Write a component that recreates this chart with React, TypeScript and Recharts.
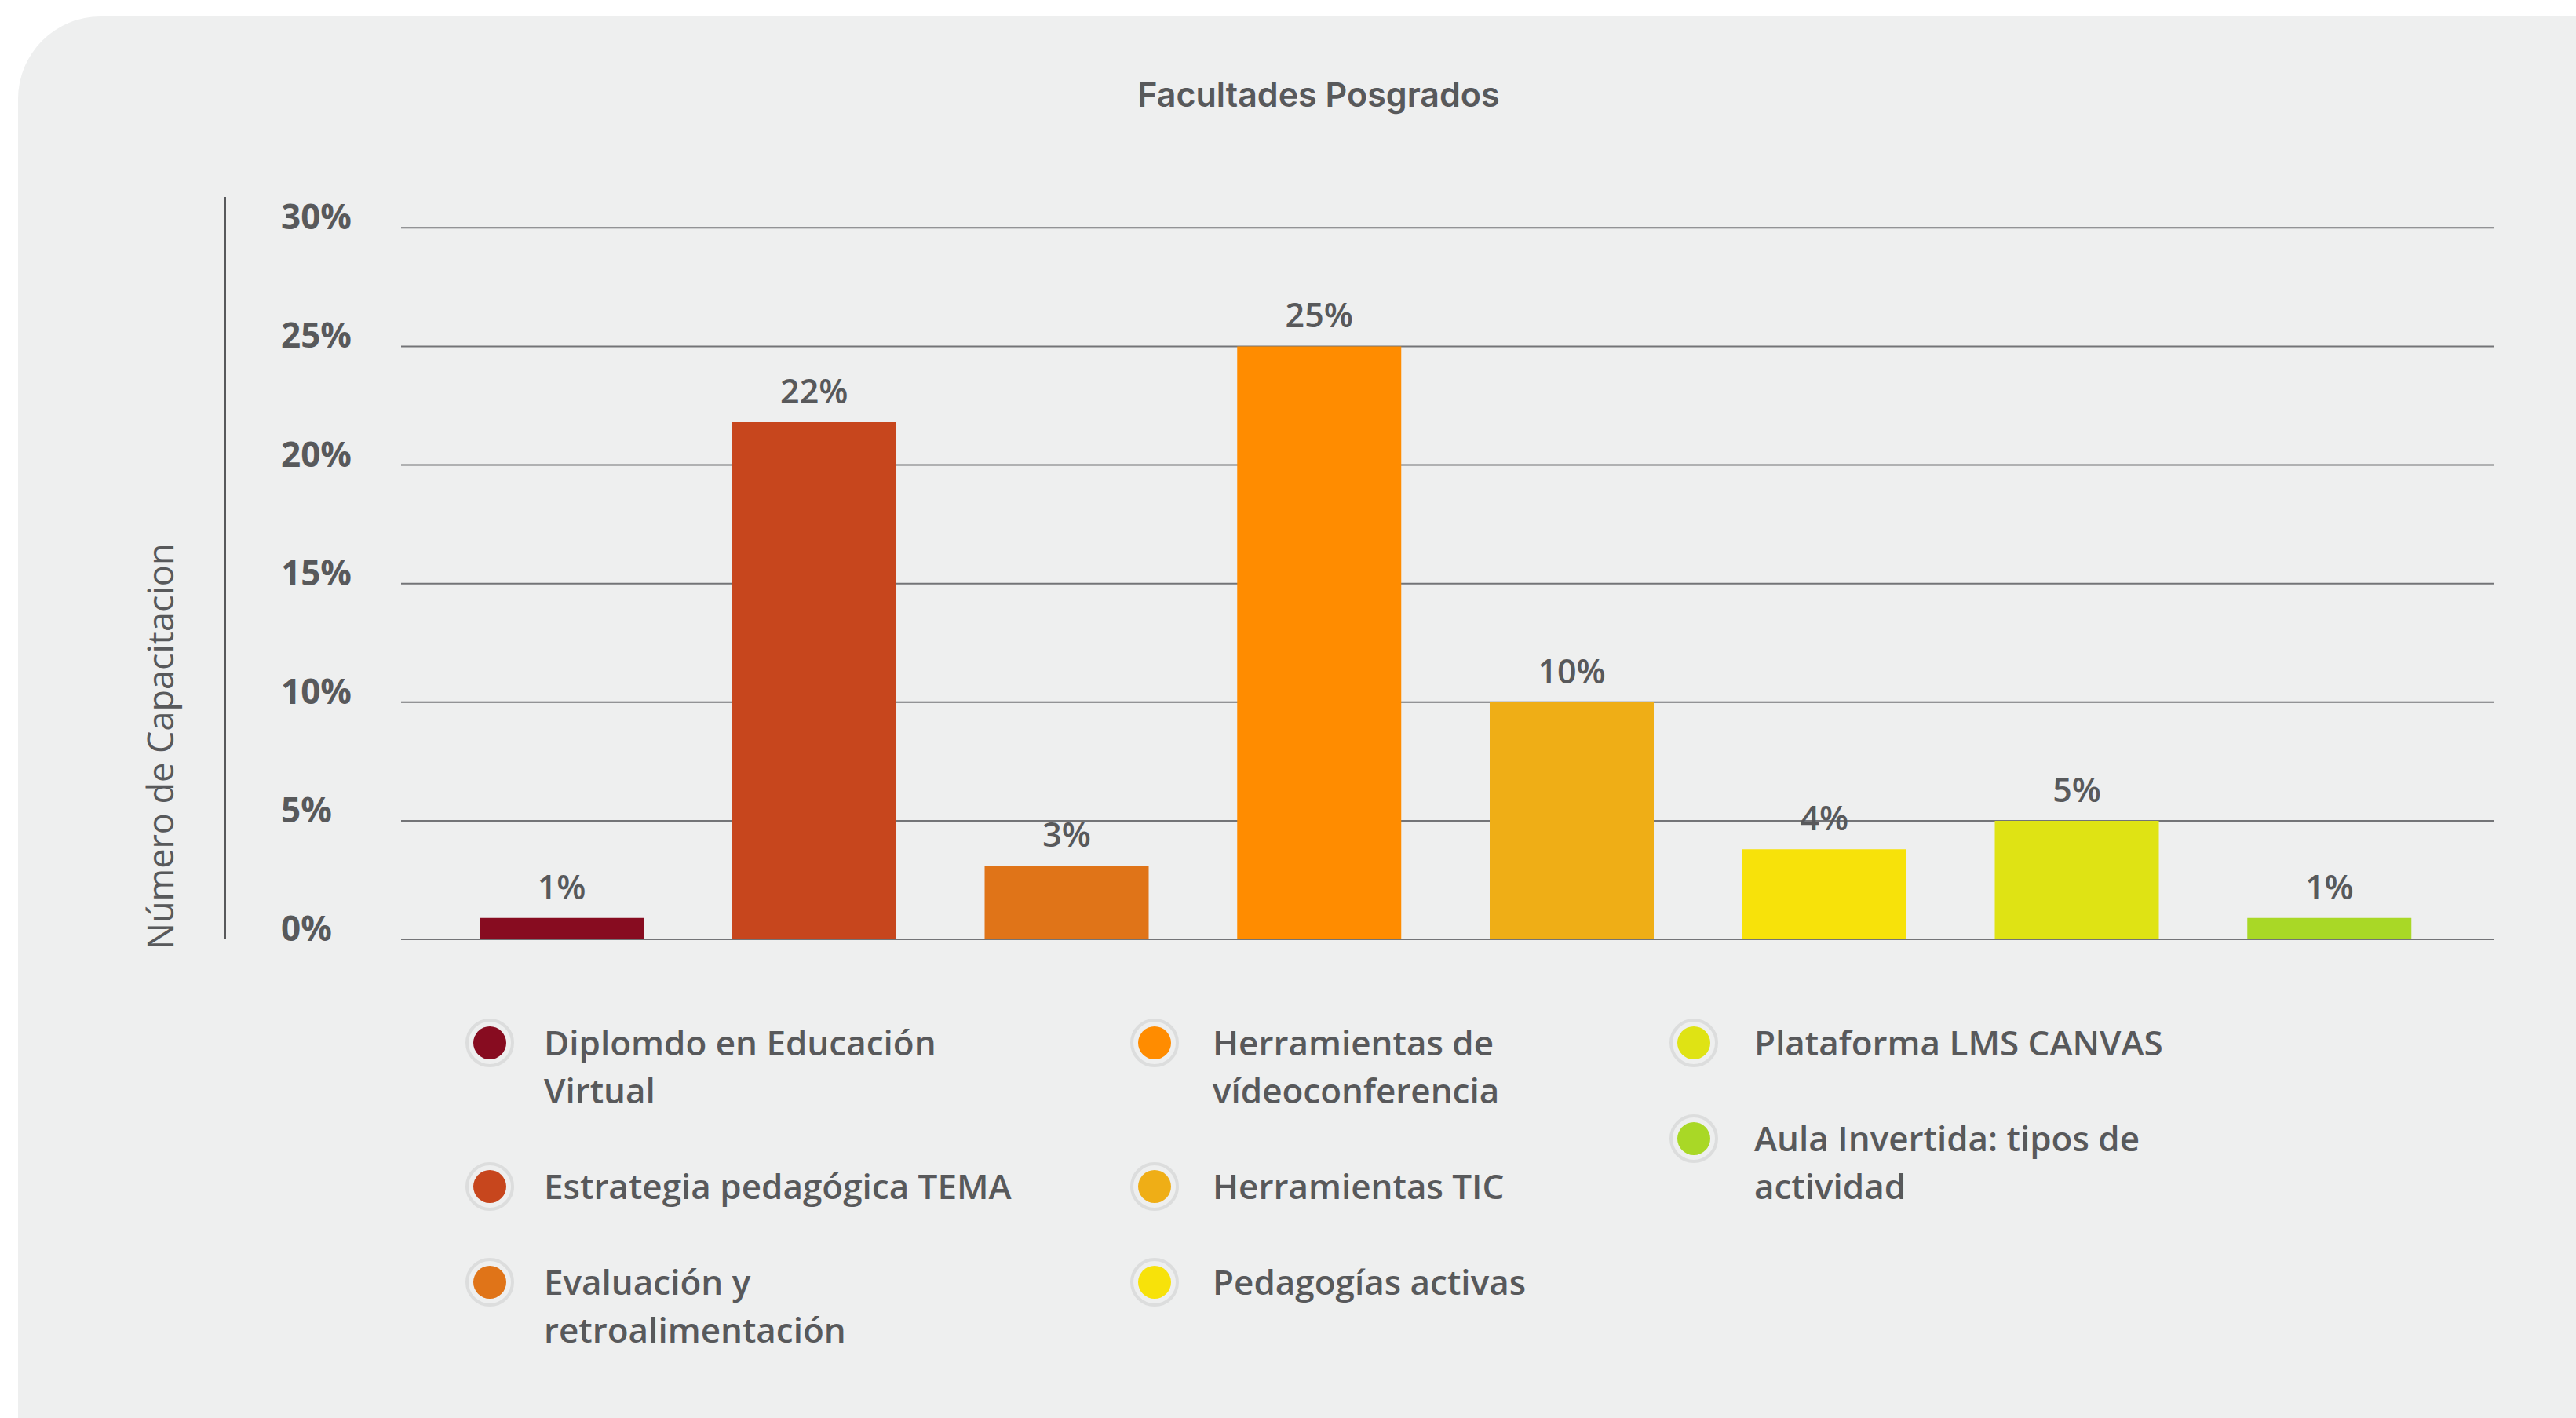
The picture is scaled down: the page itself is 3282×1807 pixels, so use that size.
import React from 'react';
import { BarChart, Bar, XAxis, YAxis, CartesianGrid, Legend, LabelList, Cell } from 'recharts';

const categories = [
  'Diplomdo en Educación Virtual',
  'Estrategia pedagógica TEMA',
  'Evaluación y retroalimentación',
  'Herramientas de vídeoconferencia',
  'Herramientas TIC',
  'Pedagogías activas',
  'Plataforma LMS CANVAS',
  'Aula Invertida: tipos de actividad',
];
const values = [0.9, 21.8, 3.1, 25, 10, 3.8, 5, 0.9];
const colors = ['#870c20', '#c7461d', '#e07418', '#ff8c00', '#efae16', '#f7e20a', '#dfe314', '#a9d826'];
const yTicks = [0, 5, 10, 15, 20, 25, 30];

const chartTitle = 'Facultades Posgrados';
const yTitle = 'Número de Capacitacion';

const data = categories.map((name, i) => ({ name, value: values[i] }));

const TEXT = '#58595b';
const W = 3282;
const H = 1807;

// legend columns: 3 items per column
const legendCols = [0, 1, 2].map((c) => categories.map((_, i) => i).filter((i) => Math.floor(i / 3) === c));
const legendDotX = [624, 1471, 2158];
const legendTextGap = [37, 42, 45];

const YTick = (props: any) => {
  const { x, y, payload } = props;
  return (
    <text x={x - 153} y={y + 2} fill={TEXT} fontSize={44} fontWeight={700} fontFamily="Open Sans">
      {payload.value}%
    </text>
  );
};

const YTitle = (props: any) => {
  const { x, y, width, height } = props.viewBox;
  const cx = x + width - 84;
  const cy = y + height + 13;
  return (
    <text
      x={cx}
      y={cy}
      transform={`rotate(-90, ${cx}, ${cy})`}
      textAnchor="start"
      dominantBaseline="central"
      fill={TEXT}
      fontSize={45}
      fontFamily="Open Sans"
    >
      {yTitle}
    </text>
  );
};

const LegendContent = () => (
  <div style={{ position: 'relative', width: W, height: 610, fontFamily: 'Open Sans', color: TEXT }}>
    {legendCols.map((col, c) => (
      <div key={c} style={{ position: 'absolute', left: legendDotX[c] - 32, top: 101 }}>
        {col.map((i) => (
          <div key={i} style={{ display: 'flex', alignItems: 'flex-start', marginBottom: 61 }}>
            <div style={{ width: 64, height: 61, display: 'flex', alignItems: 'center', justifyContent: 'center' }}>
              <svg width={64} height={64}>
                <circle cx={32} cy={32} r={29} fill="none" stroke="#dcdddd" strokeWidth={4} />
                <circle cx={32} cy={32} r={21} fill={colors[i]} />
              </svg>
            </div>
            <div style={{ marginLeft: legendTextGap[c], width: 615, fontSize: 44, fontWeight: 600, lineHeight: '61px' }}>
              {categories[i]}
            </div>
          </div>
        ))}
      </div>
    ))}
  </div>
);

const App: React.FC = () => {
  return (
    <div style={{ position: 'absolute', left: 0, top: 0, width: W, height: H, overflow: 'hidden', background: '#ffffff' }}>
      <div
        style={{
          position: 'absolute',
          left: 23,
          top: 21,
          width: 3400,
          height: 1950,
          borderRadius: 105,
          background: '#eeefef',
        }}
      />
      <div
        style={{
          position: 'absolute',
          left: 23,
          width: 3314,
          top: 94,
          textAlign: 'center',
          fontFamily: 'Inter',
          fontWeight: 600,
          fontSize: 43,
          color: TEXT,
        }}
      >
        {chartTitle}
      </div>
      <div style={{ position: 'absolute', left: 0, top: 0 }}>
        <BarChart width={W} height={H} data={data} margin={{ top: 251, right: 105, left: 87, bottom: 0 }}>
          <CartesianGrid vertical={false} horizontalValues={yTicks} stroke="#737477" strokeWidth={2} />
          <XAxis dataKey="name" hide padding={{ left: 44, right: 48 }} />
          <YAxis
            domain={[0, 31.3]}
            ticks={yTicks}
            width={224}
            axisLine={false}
            tickLine={false}
            tickSize={0}
            tickMargin={0}
            tick={<YTick />}
          />
          <YAxis
            yAxisId="frame"
            domain={[0, 1]}
            width={200}
            tick={false}
            tickLine={false}
            axisLine={{ stroke: '#58595b', strokeWidth: 2 }}
            label={<YTitle />}
          />
          <Legend
            verticalAlign="bottom"
            content={<LegendContent />}
            wrapperStyle={{ left: 0, bottom: 0, width: W }}
          />
          <Bar dataKey="value" barSize={209} isAnimationActive={false}>
            {data.map((d, i) => (
              <Cell key={d.name} fill={colors[i]} />
            ))}
            <LabelList
              dataKey="value"
              position="top"
              offset={24}
              formatter={(v: any) => `${Math.round(Number(v))}%`}
              fill={TEXT}
              fontSize={43}
              fontWeight={600}
              fontFamily="Open Sans"
            />
          </Bar>
        </BarChart>
      </div>
    </div>
  );
};

export default App;
